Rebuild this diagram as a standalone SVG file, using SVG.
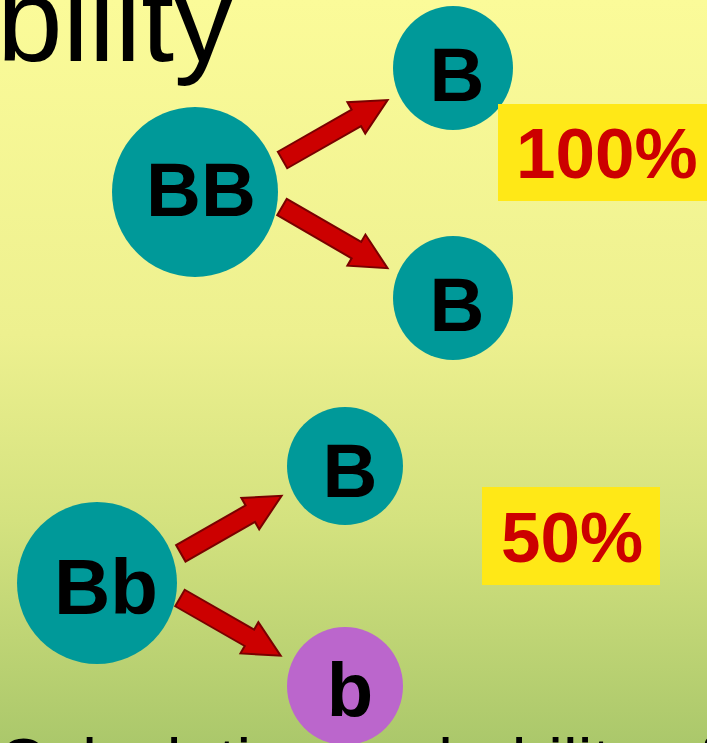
<svg xmlns="http://www.w3.org/2000/svg" width="707" height="743" viewBox="0 0 707 743">
  <defs>
    <linearGradient id="bg" x1="0" y1="0" x2="0" y2="1">
      <stop offset="0" stop-color="#FBFB99"/>
      <stop offset="0.45" stop-color="#EDF08F"/>
      <stop offset="0.7" stop-color="#D4E27F"/>
      <stop offset="1" stop-color="#ABC86B"/>
    </linearGradient>
    <style>
      .teal { fill: #009999; }
      .purple { fill: #BB66CC; }
      .lbl { font-family: "Liberation Sans", Arial, sans-serif; font-weight: bold; fill: #000000; text-anchor: middle; }
      .box { fill: #FFE817; }
      .pct { font-family: "Liberation Sans", Arial, sans-serif; font-weight: bold; fill: #CC0000; font-size: 71px; }
      .arrow { fill: #CC0000; stroke: #7A0000; stroke-width: 2; stroke-linejoin: miter; }
      .slide { font-family: "Liberation Sans", Arial, sans-serif; fill: #000000; }
    </style>
  </defs>

  <rect x="0" y="0" width="707" height="743" fill="url(#bg)"/>

  <g id="title-text">
    <text class="slide" x="-3" y="61" font-size="118">bility</text>
  </g>
  <g id="bottom-text">
    <text class="slide" x="-2" y="785" font-size="66">Calculating probability of</text>
  </g>

  <g id="connectors">
    <polygon class="arrow" transform="translate(282.5,160) rotate(-29.7)" points="0,-9.5 85,-9.5 85,-18 121,0 85,18 85,9.5 0,9.5"/>
    <polygon class="arrow" transform="translate(282,207) rotate(30.1)" points="0,-9.5 86,-9.5 86,-18 122,0 86,18 86,9.5 0,9.5"/>
    <polygon class="arrow" transform="translate(180.8,553.3) rotate(-29.7)" points="0,-9.5 80,-9.5 80,-18 116,0 80,18 80,9.5 0,9.5"/>
    <polygon class="arrow" transform="translate(180,598) rotate(29.8)" points="0,-9.5 80,-9.5 80,-18 116,0 80,18 80,9.5 0,9.5"/>
  </g>

  <g id="node-BB">
    <ellipse class="teal" cx="195" cy="192" rx="83" ry="85"/>
    <text class="lbl" x="201" y="216" font-size="76">BB</text>
  </g>
  <g id="node-B1">
    <ellipse class="teal" cx="453" cy="68" rx="60" ry="62"/>
    <text class="lbl" x="457" y="101" font-size="76">B</text>
  </g>
  <g id="node-B2">
    <ellipse class="teal" cx="453" cy="298" rx="60" ry="62"/>
    <text class="lbl" x="457" y="331" font-size="76">B</text>
  </g>
  <g id="node-Bb">
    <ellipse class="teal" cx="97" cy="583" rx="80" ry="81"/>
    <text class="lbl" x="106" y="614" font-size="78">Bb</text>
  </g>
  <g id="node-B3">
    <ellipse class="teal" cx="345" cy="466" rx="58" ry="59"/>
    <text class="lbl" x="350" y="497" font-size="76">B</text>
  </g>
  <g id="node-b">
    <ellipse class="purple" cx="345" cy="686" rx="58" ry="59"/>
    <text class="lbl" x="350" y="716" font-size="76">b</text>
  </g>

  <g id="label-100">
    <rect class="box" x="498" y="104" width="215" height="97"/>
    <text class="pct" x="516" y="178">100%</text>
  </g>
  <g id="label-50">
    <rect class="box" x="482" y="487" width="178" height="98"/>
    <text class="pct" x="501" y="562">50%</text>
  </g>
</svg>
